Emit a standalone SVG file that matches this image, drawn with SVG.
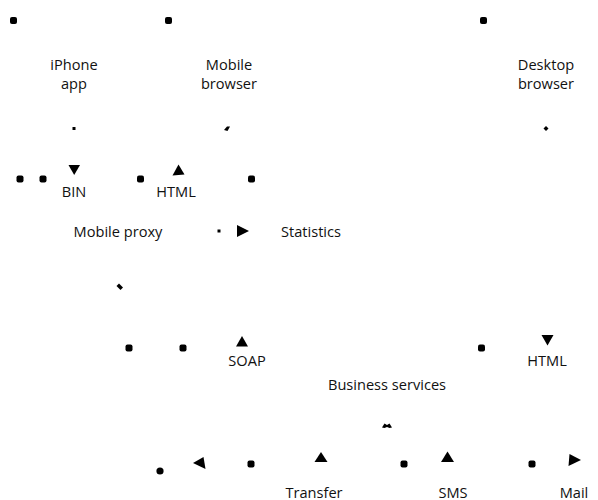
<svg xmlns="http://www.w3.org/2000/svg" width="598" height="500" viewBox="0 0 598 500">
  <style>
    .label { font-family: "Open Sans", "Noto Sans", "DejaVu Sans", sans-serif; font-size: 14.6px; fill: #111; text-anchor: middle; }
    .dot { fill: #000; }
    .tip { fill: #000; }
  </style>
  <defs>
    <rect id="end" class="dot" x="-3.5" y="-3.5" width="7" height="7" rx="2"/>
    <rect id="pin" class="dot" x="-1.5" y="-1.5" width="3" height="3"/>
  </defs>
  <rect width="598" height="500" fill="#fff"/>

  <!-- nodes -->
  <g id="iphone-app"><text class="label" x="74" y="70">iPhone</text><text class="label" x="74" y="89">app</text></g>
  <g id="mobile-browser"><text class="label" x="229" y="70">Mobile</text><text class="label" x="229" y="89">browser</text></g>
  <g id="desktop-browser"><text class="label" x="546" y="70">Desktop</text><text class="label" x="546" y="89">browser</text></g>
  <g id="mobile-proxy"><text class="label" x="118" y="237">Mobile proxy</text></g>
  <g id="statistics"><text class="label" x="311" y="237">Statistics</text></g>
  <g id="business-services"><text class="label" x="387" y="390">Business services</text></g>
  <g id="transfer"><text class="label" x="314" y="497.5">Transfer</text></g>
  <g id="sms"><text class="label" x="453" y="497.5">SMS</text></g>
  <g id="mail"><text class="label" x="574" y="497.5">Mail</text></g>

  <!-- connectors: line ends, arrowheads and labels -->
  <g id="connectors">
    <use href="#end" x="13.5" y="20.5"/>
    <use href="#end" x="168.5" y="20.5"/>
    <use href="#end" x="483.5" y="20.5"/>
    <use href="#end" x="20" y="179"/>
    <use href="#end" x="43" y="179"/>
    <use href="#end" x="140.5" y="179"/>
    <use href="#end" x="251.5" y="179"/>
    <use href="#end" x="129" y="348"/>
    <use href="#end" x="183" y="348"/>
    <use href="#end" x="481.5" y="348"/>
    <use href="#end" x="251" y="464"/>
    <use href="#end" x="404" y="464"/>
    <use href="#end" x="532" y="464"/>
    <circle class="dot" cx="160" cy="471" r="3.6"/>

    <use href="#pin" x="74" y="128.5"/>
    <use href="#pin" x="219" y="231"/>
    <path class="dot" d="M224 130 L227 126.5 L230 126.5 L227.5 131 Z"/>
    <path class="dot" d="M543.5 128.5 L546 126 L548.5 128.5 L546 131 Z"/>
    <path class="dot" d="M116.5 286 L119 283.5 L123 287.5 L120.5 290 Z"/>
    <path class="dot" d="M382 427.5 L384.5 423.5 L387 425 L389.5 423.5 L392 427.5 L389.5 428 L387 427 L384.5 428 Z"/>

    <path class="tip" d="M68.5 165 L80 165 L74.2 175 Z"/>
    <path class="tip" d="M178.5 164.5 L184.5 174.5 L172.5 175.5 Z"/>
    <path class="tip" d="M237 225 L249 231 L237 237 Z"/>
    <path class="tip" d="M242 336 L248 346.5 L236 346.5 Z"/>
    <path class="tip" d="M541.5 335 L553.5 335 L547.5 345.5 Z"/>
    <path class="tip" d="M193 463 L203.5 457 L205.5 469 Z"/>
    <path class="tip" d="M321 452 L327.5 462 L314.5 462 Z"/>
    <path class="tip" d="M447.5 451.5 L454 462 L441 462 Z"/>
    <path class="tip" d="M581 460 L569.5 454 L568.5 466 Z"/>

    <text class="label" x="74" y="197">BIN</text>
    <text class="label" x="176" y="197">HTML</text>
    <text class="label" x="247" y="366">SOAP</text>
    <text class="label" x="547" y="366">HTML</text>
  </g>
</svg>
